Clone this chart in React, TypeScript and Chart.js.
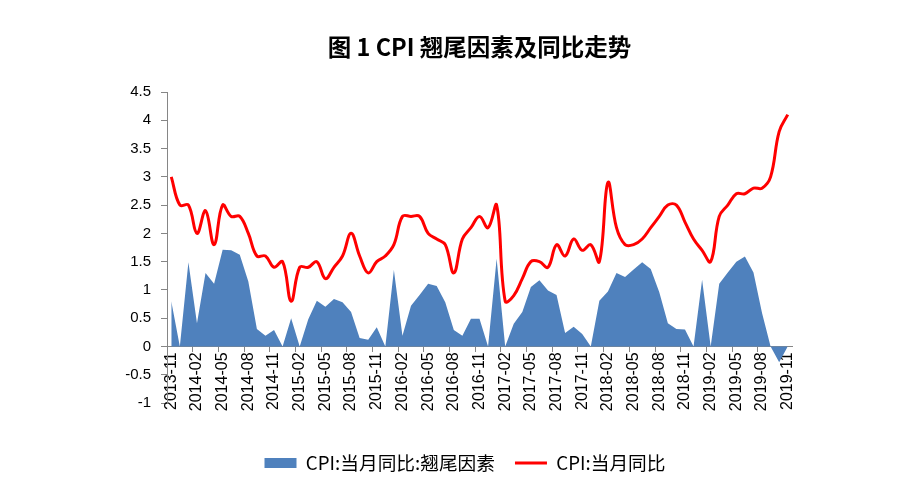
import React, { useEffect, useRef } from 'react';
import { Chart, registerables } from 'chart.js';

Chart.register(...registerables);

const months: string[] = [
  '2013-11', '2013-12',
  '2014-01', '2014-02', '2014-03', '2014-04', '2014-05', '2014-06', '2014-07', '2014-08', '2014-09', '2014-10', '2014-11', '2014-12',
  '2015-01', '2015-02', '2015-03', '2015-04', '2015-05', '2015-06', '2015-07', '2015-08', '2015-09', '2015-10', '2015-11', '2015-12',
  '2016-01', '2016-02', '2016-03', '2016-04', '2016-05', '2016-06', '2016-07', '2016-08', '2016-09', '2016-10', '2016-11', '2016-12',
  '2017-01', '2017-02', '2017-03', '2017-04', '2017-05', '2017-06', '2017-07', '2017-08', '2017-09', '2017-10', '2017-11', '2017-12',
  '2018-01', '2018-02', '2018-03', '2018-04', '2018-05', '2018-06', '2018-07', '2018-08', '2018-09', '2018-10', '2018-11', '2018-12',
  '2019-01', '2019-02', '2019-03', '2019-04', '2019-05', '2019-06', '2019-07', '2019-08', '2019-09', '2019-10', '2019-11',
];

// CPI:当月同比:翘尾因素
const carryOver: number[] = [
  0.80, 0,
  1.49, 0.41, 1.30, 1.11, 1.71, 1.70, 1.62, 1.15, 0.31, 0.19, 0.29, 0,
  0.50, 0, 0.48, 0.81, 0.70, 0.84, 0.78, 0.61, 0.15, 0.12, 0.34, 0,
  1.35, 0.19, 0.72, 0.91, 1.11, 1.07, 0.78, 0.29, 0.19, 0.49, 0.49, 0,
  1.55, 0, 0.40, 0.61, 1.05, 1.17, 0.99, 0.91, 0.24, 0.35, 0.22, 0,
  0.81, 0.97, 1.30, 1.23, 1.36, 1.49, 1.37, 0.96, 0.41, 0.31, 0.30, 0,
  1.18, 0, 1.11, 1.31, 1.50, 1.59, 1.31, 0.59, 0, -0.28, 0,
];

// CPI:当月同比
const cpiYoY: number[] = [
  3.0, 2.5,
  2.5, 2.0, 2.4, 1.8, 2.5, 2.3, 2.3, 2.0, 1.6, 1.6, 1.4, 1.5,
  0.8, 1.4, 1.4, 1.5, 1.2, 1.4, 1.6, 2.0, 1.6, 1.3, 1.5, 1.6,
  1.8, 2.3, 2.3, 2.3, 2.0, 1.9, 1.8, 1.3, 1.9, 2.1, 2.3, 2.1,
  2.5, 0.8, 0.9, 1.2, 1.5, 1.5, 1.4, 1.8, 1.6, 1.9, 1.7, 1.8,
  1.5, 2.9, 2.1, 1.8, 1.8, 1.9, 2.1, 2.3, 2.5, 2.5, 2.2, 1.9,
  1.7, 1.5, 2.3, 2.5, 2.7, 2.7, 2.8, 2.8, 3.0, 3.8, 4.1,
];

const seriesNames: string[] = ['CPI:当月同比:翘尾因素', 'CPI:当月同比'];
const titleText = '图 1 CPI 翘尾因素及同比走势';
const yMin = -1;
const yMax = 4.5;
const yStep = 0.5;
const labelEvery = 3;

const latinFont = "'Liberation Sans', Arial, sans-serif";
const cjkFont = "'Noto Sans CJK SC', sans-serif";
const axisGray = '#868686';

export default function App() {
  const canvasRef = useRef<HTMLCanvasElement>(null);

  useEffect(() => {
    const canvas = canvasRef.current;
    if (!canvas) return;
    const chart = new Chart(canvas, {
      type: 'line',
      data: {
        labels: months,
        datasets: [
          {
            label: seriesNames[0],
            data: carryOver,
            xAxisID: 'x',
            yAxisID: 'y',
            fill: 'origin',
            backgroundColor: '#4F81BD',
            borderColor: '#4F81BD',
            borderWidth: 0,
            pointRadius: 0,
            pointHoverRadius: 0,
            pointStyle: 'rect',
            tension: 0,
            order: 2,
          },
          {
            label: seriesNames[1],
            data: cpiYoY,
            xAxisID: 'x',
            yAxisID: 'y',
            fill: false,
            backgroundColor: '#FF0000',
            borderColor: '#FF0000',
            borderWidth: 3,
            pointRadius: 0,
            pointHoverRadius: 0,
            pointStyle: 'line',
            tension: 0.4,
            order: 1,
          },
        ],
      },
      options: {
        animation: false,
        responsive: true,
        maintainAspectRatio: false,
        events: [],
        layout: { padding: { left: 8, right: 0, top: 0, bottom: -5.35 } },
        plugins: {
          tooltip: { enabled: false },
          title: {
            display: true,
            text: titleText,
            fullSize: false,
            color: '#000',
            font: { family: cjkFont, size: 23.5, weight: 'bold', lineHeight: 1.2 },
            padding: { top: 25, bottom: 30.8 },
          },
          legend: {
            display: true,
            position: 'bottom',
            fullSize: true,
            labels: {
              usePointStyle: true,
              pointStyleWidth: 32,
              boxHeight: 10,
              padding: 20,
              color: '#000',
              font: { family: cjkFont, size: 18.7 },
              sort: (a: any, b: any) => a.datasetIndex - b.datasetIndex,
            },
          },
        },
        scales: {
          x: {
            type: 'category',
            position: { y: 0 } as any,
            offset: true,
            z: 1,
            grid: {
              offset: true,
              drawOnChartArea: false,
              tickLength: 5,
              tickColor: (ctx: any) =>
                typeof ctx.index === 'number' && ctx.index % labelEvery === 0 ? axisGray : 'rgba(0,0,0,0)',
            },
            border: { color: axisGray, width: 1 },
            ticks: {
              autoSkip: false,
              maxRotation: 90,
              minRotation: 90,
              padding: 1,
              color: '#000',
              font: { family: latinFont, size: 16 },
              callback: (_v: any, i: number) => (i % labelEvery === 0 ? months[i] : ''),
            },
          },
          x2: {
            type: 'linear',
            axis: 'x',
            position: 'bottom',
            display: true,
            grid: { display: false },
            border: { display: false },
            ticks: { display: false },
            afterFit: (s: any) => {
              s.height = 30.65;
            },
          },
          y: {
            type: 'linear',
            position: 'left',
            min: yMin,
            max: yMax,
            grid: { drawOnChartArea: false, tickLength: 6, color: axisGray },
            border: { color: axisGray, width: 1 },
            ticks: {
              stepSize: yStep,
              padding: 10,
              color: '#000',
              font: { family: latinFont, size: 15 },
              callback: (v: any) => String(Math.round(Number(v) * 10) / 10),
            },
            afterFit: (s: any) => {
              s.width = 151;
            },
          },
          y2: {
            type: 'linear',
            position: 'right',
            display: true,
            grid: { display: false },
            border: { display: false },
            ticks: { display: false },
            afterFit: (s: any) => {
              s.width = 122;
            },
          },
        },
      } as any,
    });
    return () => chart.destroy();
  }, []);

  return (
    <div style={{ position: 'relative', width: 906, height: 469 }}>
      <canvas ref={canvasRef} />
    </div>
  );
}
